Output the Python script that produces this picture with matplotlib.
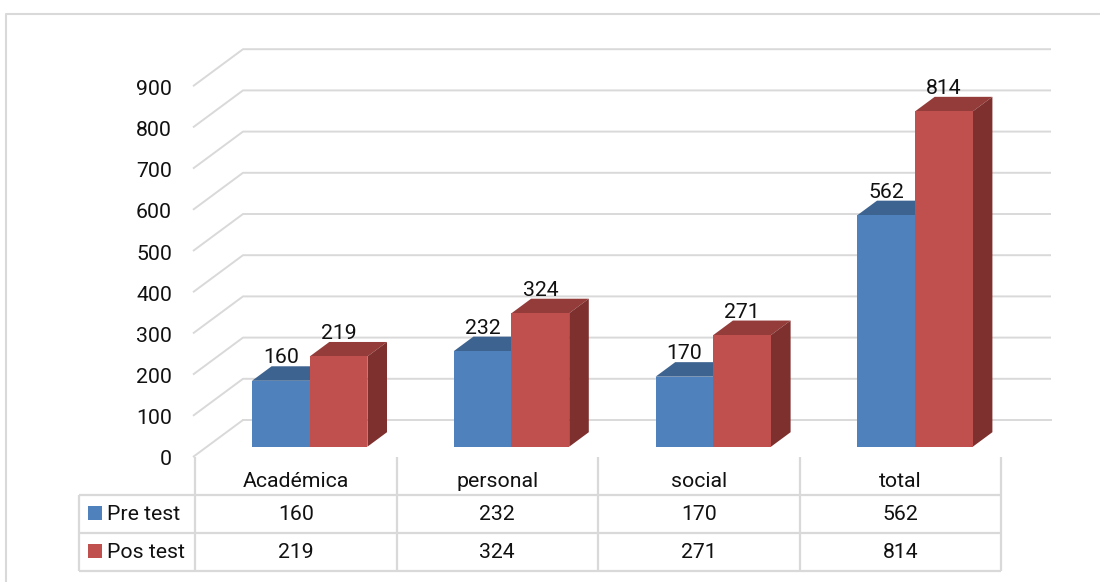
import numpy as np
import matplotlib
matplotlib.use("Agg")
import matplotlib.pyplot as plt
from matplotlib.lines import Line2D

# values
categories = ["Académica", "personal", "social", "total"]
series_names = ["Pre test", "Pos test"]
pre_test = [160, 232, 170, 562]
pos_test = [219, 324, 271, 814]
y_ticks = list(range(0, 1000, 100))

W, H = 1100, 582
GRID = "#d9d9d9"
TXT = "#111111"
plt.rcParams["font.family"] = ["Roboto", "DejaVu Sans"]
FS = 15.3

fig = plt.figure(figsize=(W / 100, H / 100), dpi=100)


def px_axes(x0, x1, y_top, y_bot, **kw):
    return fig.add_axes([x0 / W, 1 - y_bot / H, (x1 - x0) / W, (y_bot - y_top) / H], **kw)


# chart border, runs off the right and the bottom of the image
fig.add_artist(Line2D([6 / W, 6 / W, 1], [0, 1 - 13.5 / H, 1 - 13.5 / H], color=GRID, lw=1.5))

# main axes: x in groups (0..4), y in values, this is the plane of the bar fronts
scale = 0.412  # pixels per value
ax = px_axes(195, 195 + 4 * 201.8, 446.7 - 900 * scale, 446.7)
ax.set_xlim(0, 4)
ax.set_ylim(0, 900)
ax.axis("off")

px_x = 4 / (4 * 201.8)  # one pixel in group units
px_y = 1 / scale  # one pixel in value units
dx, dy = 19.6 * px_x, 14.5 * px_y  # bar depth
bar_w = 57.7 * px_x
bar_start = 57 * px_x

# walls: side wall slant + back wall line for every tick
x_front, x_back, x_end = -2 * px_x, 48 * px_x, 856 * px_x
y_front, y_back = -10.3 * px_y, 26.7 * px_y
for v in y_ticks:
    if v == 0:
        xs, ys = [x_front, x_back], [v + y_front, v + y_back]
    else:
        xs, ys = [x_front, x_back, x_end], [v + y_front, v + y_back, v + y_back]
    ax.plot(xs, ys, color=GRID, lw=1.4, clip_on=False, zorder=1, solid_capstyle="butt")
ax.plot([x_back, x_end], [y_back, y_back], color=GRID, lw=1.4, clip_on=False, zorder=1)

colors = [
    ("#4f81bd", "#3d6390", "#345479"),
    ("#c0504d", "#943c3a", "#7d302e"),
]
for s, vals in enumerate([pre_test, pos_test]):
    front, top, side = colors[s]
    for i, v in enumerate(vals):
        left = i + bar_start + s * bar_w
        right = left + bar_w
        ax.fill([left, right, right + dx, left + dx], [v, v, v + dy, v + dy],
                color=top, lw=0, clip_on=False, zorder=2 + s)
        ax.fill([right, right + dx, right + dx, right], [0, dy, v + dy, v],
                color=side, lw=0, clip_on=False, zorder=2 + s)
        ax.bar(left, v, width=bar_w, align="edge", color=front, lw=0, clip_on=False, zorder=3 + s)
        ax.text(left + 0.5 * bar_w, v + dy + 8.5 * px_y, str(v), ha="center", va="center",
                fontsize=FS, color=TXT, zorder=6, clip_on=False)

# y tick labels
for v in y_ticks:
    ax.text(-23 * px_x, v + y_front - 3 * px_y, str(v), ha="right", va="center",
            fontsize=FS, color=TXT, clip_on=False)

# data table underneath: x in groups, y in rows
tb = px_axes(195, 1001, 457, 571)
tb.set_xlim(0, 4)
tb.set_ylim(3, 0)
tb.axis("off")
left_edge = -116 * 4 / 806
for x in range(5):
    tb.plot([x, x], [0, 3], color=GRID, lw=1.6, clip_on=False, solid_capstyle="butt")
tb.plot([left_edge, left_edge], [1, 3], color=GRID, lw=1.6, clip_on=False, solid_capstyle="butt")
for r in [1, 2, 3]:
    tb.plot([left_edge, 4], [r, r], color=GRID, lw=1.6, clip_on=False, solid_capstyle="butt")

for i, c in enumerate(categories):
    tb.text(i + 0.5, 0.65, c, ha="center", va="center", fontsize=FS, color=TXT)
for r, (name, vals) in enumerate(zip(series_names, [pre_test, pos_test])):
    y = r + 1.51
    tb.plot([left_edge + 16 * 4 / 806], [y - 0.04], marker="s", ms=10, mew=0,
            color=colors[r][0], clip_on=False)
    tb.text(left_edge + 28 * 4 / 806, y, name, ha="left", va="center", fontsize=FS, color=TXT)
    for i, v in enumerate(vals):
        tb.text(i + 0.5, y, str(v), ha="center", va="center", fontsize=FS, color=TXT)

fig.savefig("out.png", dpi=100)
